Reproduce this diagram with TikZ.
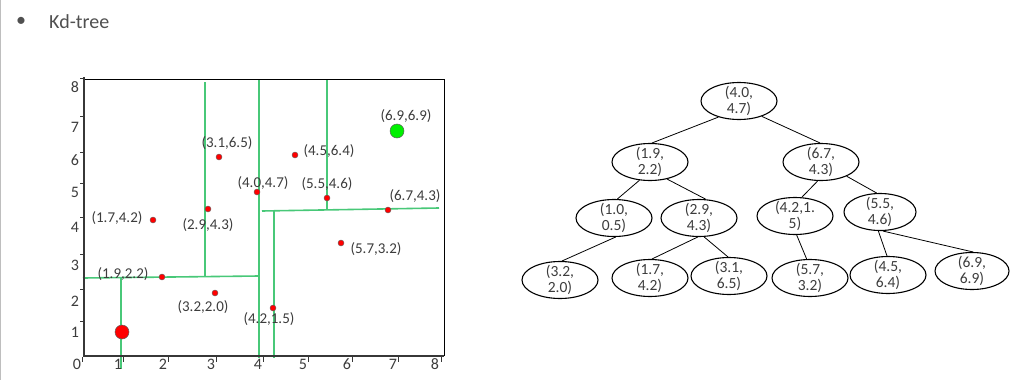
\documentclass[tikz,border=0pt]{standalone}
\usepackage{fontspec}
\setmainfont{Carlito}
\usetikzlibrary{shapes.geometric}
\definecolor{kgreen}{RGB}{72,200,120}
\definecolor{ktext}{RGB}{60,60,60}
\definecolor{kaxis}{RGB}{55,55,55}
\definecolor{kedge}{RGB}{190,190,190}
\begin{document}
\begin{tikzpicture}[x=1pt,y=-1pt,
  tnode/.style={ellipse, draw=black, line width=1.1pt, minimum width=76pt, minimum height=37pt,
    inner xsep=0pt, inner ysep=-3.5pt, align=center, font=\fontsize{15.5}{16.5}\selectfont, text=ktext},
  tedge/.style={draw=black, line width=0.8pt},
  dot/.style={circle, fill=red, draw=kaxis!80, line width=0.4pt, inner sep=0pt, minimum size=6pt},
  bigdot/.style={circle, draw=kaxis!80, line width=0.5pt, inner sep=0pt, minimum size=14pt},
  lbl/.style={font=\fontsize{15}{17}\selectfont, text=ktext, inner sep=0pt},
  axlbl/.style={font=\fontsize{16}{18}\selectfont, text=ktext, inner sep=0pt},
  gline/.style={kgreen, line width=1.6pt},
  tick/.style={kaxis, line width=0.6pt}
]
\useasboundingbox (0,0) rectangle (1019,380);
\draw[kedge, line width=1pt] (0.5,0) -- (0.5,380);
% title
\node[font=\fontsize{20}{24}\selectfont, text=ktext!90] (bullet) at (21,22) {•};
\node[font=\fontsize{20}{24}\selectfont, text=ktext!90, anchor=west, inner sep=0pt] (title) at (49,22) {Kd-tree};

% green split lines
\draw[gline] (121,278) -- (121,369);
\draw[gline] (83,278) -- (259,276);
\draw[gline] (205,82) -- (205,276);
\draw[gline] (259,80) -- (259,358);
\draw[gline] (327,80) -- (327,210);
\draw[gline] (262,211) -- (439,208);
\draw[gline] (274,211) -- (274,358);

% axes and frame
\draw[black, line width=0.9pt] (84,79) -- (444,79) -- (444,356);
\draw[kaxis, line width=1.8pt] (84,77) -- (84,356) -- (444,356);
\foreach \y in {78,116,152,183,217,254,289,321} \draw[tick] (80,\y) -- (84,\y);
\node[axlbl] (y8) at (75,87) {8};
\node[axlbl] (y7) at (75,127) {7};
\node[axlbl] (y6) at (75,160) {6};
\node[axlbl] (y5) at (75,192) {5};
\node[axlbl] (y4) at (75,227) {4};
\node[axlbl] (y3) at (75,265) {3};
\node[axlbl] (y2) at (75,301) {2};
\node[axlbl] (y1) at (75,332) {1};
\node[axlbl] (x0) at (77,364) {0};
\node[axlbl] (x1) at (118,364) {1};
\node[axlbl] (x2) at (163,364) {2};
\node[axlbl] (x3) at (211,364) {3};
\node[axlbl] (x4) at (258,364) {4};
\node[axlbl] (x5) at (303,364) {5};
\node[axlbl] (x6) at (347,364) {6};
\node[axlbl] (x7) at (393,364) {7};
\node[axlbl] (x8) at (435,364) {8};
\foreach \x in {82,123,168,216,263,308,352,398,441} \draw[tick] (\x,357) -- (\x,362);

% points
\node[dot] (p31) at (219,157) {};
\node[dot] (p29) at (208,209) {};
\node[dot] (p17) at (153,220) {};
\node[dot] (p40) at (257,192) {};
\node[dot] (p45) at (295,155) {};
\node[dot] (p55) at (327,198) {};
\node[dot] (p67) at (388,210) {};
\node[dot] (p19) at (162,277) {};
\node[dot] (p32) at (215,293) {};
\node[dot] (p42) at (273,308) {};
\node[dot] (p57) at (341,243) {};
\node[bigdot, fill=green!90!black!60!green] (p69) at (397,131) {};
\node[bigdot, fill=red] (p10) at (122,332) {};

% point labels
\node[lbl] (l31) at (227,143) {(3.1,6.5)};
\node[lbl] (l29) at (208,225) {(2.9,4.3)};
\node[lbl] (l17) at (117,218) {(1.7,4.2)};
\node[lbl] (l40) at (263,183) {(4.0,4.7)};
\node[lbl] (l45) at (329,151) {(4.5,6.4)};
\node[lbl] (l55) at (327,184) {(5.5,4.6)};
\node[lbl] (l67) at (415,196) {(6.7,4.3)};
\node[lbl] (l69) at (406,116) {(6.9,6.9)};
\node[lbl] (l19) at (123,274) {(1.9,2.2)};
\node[lbl] (l32) at (203,307) {(3.2,2.0)};
\node[lbl] (l42) at (269,319) {(4.2,1.5)};
\node[lbl] (l57) at (376,249) {(5.7,3.2)};

% tree
\node[tnode] (A) at (739,101) {(4.0,\\4.7)};
\node[tnode] (B) at (650,162) {(1.9,\\2.2)};
\node[tnode] (C) at (821,162) {(6.7,\\4.3)};
\node[tnode] (D) at (614,218) {(1.0,\\0.5)};
\node[tnode] (E) at (699,218) {(2.9,\\4.3)};
\node[tnode] (F) at (795,216) {(4.2,1.\\5)};
\node[tnode, minimum width=72pt] (G) at (880,212) {(5.5,\\4.6)};
\node[tnode] (H) at (560,280) {(3.2,\\2.0)};
\node[tnode] (I) at (650,278) {(1.7,\\4.2)};
\node[tnode] (J) at (729,276) {(3.1,\\6.5)};
\node[tnode] (K) at (810,278) {(5.7,\\3.2)};
\node[tnode] (L) at (888,275) {(4.5,\\6.4)};
\node[tnode, minimum width=74pt] (M) at (972,271) {(6.9,\\6.9)};

\draw[tedge] (A.218) -- (B.84);
\draw[tedge] (A.326) -- (C.93);
\draw[tedge] (B.240) -- (D.80);
\draw[tedge] (B.315) -- (E.70);
\draw[tedge] (C.260) -- (F.70);
\draw[tedge] (C.331) -- (G.100);
\draw[tedge] (D.275) -- (H.84);
\draw[tedge] (E.266) -- (I.84);
\draw[tedge] (E.285) -- (J.93);
\draw[tedge] (F.275) -- (K.100);
\draw[tedge] (G.265) -- (L.93);
\draw[tedge] (G.278) -- (M.87);
\end{tikzpicture}
\end{document}
